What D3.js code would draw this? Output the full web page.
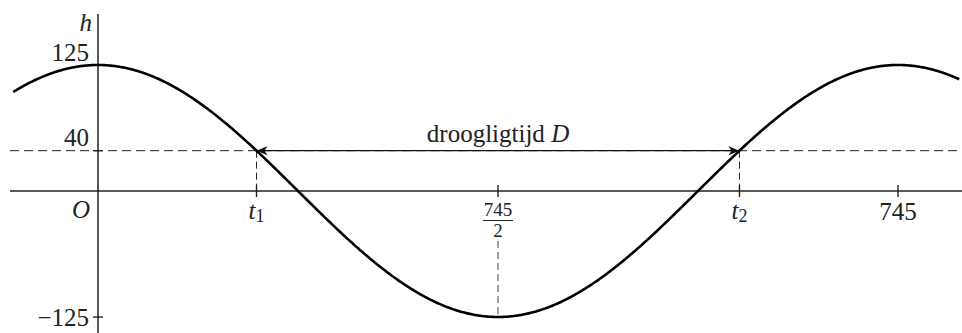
<!DOCTYPE html>
<html>
<head>
<meta charset="utf-8">
<script src="https://cdn.jsdelivr.net/npm/d3@7"></script>
<style>
  body { margin: 0; background: #fff; }
  text { font-family: "Liberation Serif", "Times New Roman", serif; fill: #222; }
</style>
</head>
<body>
<div id="chart"></div>
<script>
// curve parameters
var amplitude = 125;
var period = 745;
var level = 40;               // dashed level line
var tDomain = [-79, 802];     // visible part of the t axis
var yTicks = [125, 40, -125];
var arrowLabel = "droogligtijd ";

var width = 962, height = 333;

var svg = d3.select("#chart")
  .append("svg")
    .attr("width", width)
    .attr("height", height);

var x = d3.scaleLinear().domain([0, period]).range([98, 898]);
var y = d3.scaleLinear().domain([-amplitude, amplitude]).range([317, 65]);

function h(t) { return amplitude * Math.cos(2 * Math.PI * t / period); }

// where h = level
var t1 = period / (2 * Math.PI) * Math.acos(level / amplitude);
var t2 = period - t1;

// sample the curve
var pts = d3.range(tDomain[0], tDomain[1] + 0.5, 1).map(t => [t, h(t)]);

// axes
svg.append("line")
  .attr("x1", 10).attr("x2", width)
  .attr("y1", y(0)).attr("y2", y(0))
  .attr("stroke", "#222").attr("stroke-width", 1.6);

svg.append("line")
  .attr("x1", x(0)).attr("x2", x(0))
  .attr("y1", 14).attr("y2", height)
  .attr("stroke", "#111").attr("stroke-width", 1.4);

// dashed helper lines
svg.append("line")
  .attr("x1", 10).attr("x2", width)
  .attr("y1", y(level)).attr("y2", y(level))
  .attr("stroke", "#222").attr("stroke-width", 1).attr("stroke-dasharray", "9,5");

[t1, t2].forEach(t => {
  svg.append("line")
    .attr("x1", x(t)).attr("x2", x(t))
    .attr("y1", y(level)).attr("y2", y(0) + 6)
    .attr("stroke", "#222").attr("stroke-width", 1).attr("stroke-dasharray", "7,4");
});

svg.append("line")
  .attr("x1", x(period / 2)).attr("x2", x(period / 2))
  .attr("y1", 241).attr("y2", y(-amplitude))
  .attr("stroke", "#444").attr("stroke-width", 1).attr("stroke-dasharray", "7,4");

// x ticks
[t1, period / 2, t2, period].forEach(t => {
  svg.append("line")
    .attr("x1", x(t)).attr("x2", x(t))
    .attr("y1", y(0) - 6).attr("y2", y(0) + 6)
    .attr("stroke", "#222").attr("stroke-width", 1.4);
});

// y ticks
[level, -amplitude].forEach(v => {
  svg.append("line")
    .attr("x1", x(0) - 5).attr("x2", x(0) + 5)
    .attr("y1", y(v)).attr("y2", y(v))
    .attr("stroke", "#222").attr("stroke-width", 1.4);
});

// the curve
var line = d3.line().x(d => x(d[0])).y(d => y(d[1]));
svg.append("path")
  .datum(pts)
  .attr("d", line)
  .attr("fill", "none")
  .attr("stroke", "#000")
  .attr("stroke-width", 2.6);

// double arrow between t1 and t2
svg.append("line")
  .attr("x1", x(t1) + 4).attr("x2", x(t2) - 4)
  .attr("y1", y(level)).attr("y2", y(level))
  .attr("stroke", "#111").attr("stroke-width", 1.3);

function arrowHead(px, py, dir) {
  var l = 11, w = 4.5, k = 3;
  var p = [[px, py], [px + dir * l, py - w], [px + dir * (l - k), py], [px + dir * l, py + w]];
  svg.append("path")
    .attr("d", "M" + p.map(d => d.join(",")).join("L") + "Z")
    .attr("fill", "#111");
}
arrowHead(x(t1), y(level), 1);
arrowHead(x(t2), y(level), -1);

// labels
var fs = 25;
svg.append("text")
  .attr("x", (x(t1) + x(t2)) / 2).attr("y", 142)
  .attr("text-anchor", "middle").attr("font-size", fs)
  .text(arrowLabel)
  .append("tspan").attr("font-style", "italic").text("D");

svg.append("text")
  .attr("x", 92).attr("y", 31)
  .attr("text-anchor", "end").attr("font-size", fs).attr("font-style", "italic")
  .text("h");

svg.selectAll(".ylab")
  .data(yTicks)
  .enter().append("text")
    .attr("class", "ylab")
    .attr("x", 89)
    .attr("y", d => d === amplitude ? 61 : d === level ? 146 : 326)
    .attr("text-anchor", "end")
    .attr("font-size", fs)
    .text(d => d < 0 ? "\u2212" + Math.abs(d) : d);

svg.append("text")
  .attr("x", 90).attr("y", 218)
  .attr("text-anchor", "end").attr("font-size", fs).attr("font-style", "italic")
  .text("O");

[[t1, "1"], [t2, "2"]].forEach(d => {
  var tx = svg.append("text")
    .attr("x", x(d[0])).attr("y", 219)
    .attr("text-anchor", "middle").attr("font-size", fs);
  tx.append("tspan").attr("font-style", "italic").text("t");
  tx.append("tspan").attr("font-size", 18).attr("dy", 3).text(d[1]);
});

svg.append("text")
  .attr("x", x(period)).attr("y", 220)
  .attr("text-anchor", "middle").attr("font-size", fs)
  .text(period);

// fraction label at half period
var xf = x(period / 2);
svg.append("text")
  .attr("x", xf).attr("y", 216)
  .attr("text-anchor", "middle").attr("font-size", 19)
  .text(period);
svg.append("line")
  .attr("x1", xf - 15).attr("x2", xf + 15)
  .attr("y1", 220.5).attr("y2", 220.5)
  .attr("stroke", "#222").attr("stroke-width", 1);
svg.append("text")
  .attr("x", xf).attr("y", 237)
  .attr("text-anchor", "middle").attr("font-size", 19)
  .text("2");
</script>
</body>
</html>
